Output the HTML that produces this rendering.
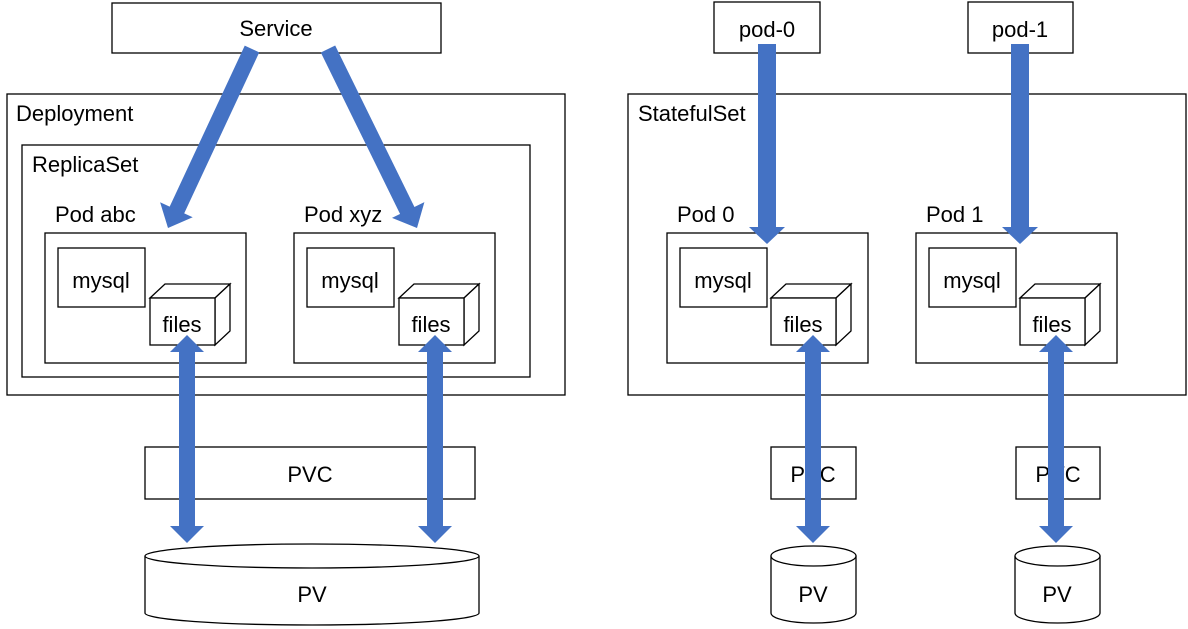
<!DOCTYPE html>
<html><head><meta charset="utf-8"><style>
html,body{margin:0;padding:0;background:#fff;}
svg{display:block;}
text{font-family:"Liberation Sans","Noto Sans CJK KR",sans-serif;font-size:22px;fill:#000;}
</style></head><body>
<svg width="1188" height="629" viewBox="0 0 1188 629" xmlns="http://www.w3.org/2000/svg">
<g fill="#fff" stroke="#000" stroke-width="1.3">
<rect x="112" y="3" width="329" height="50"/>
<rect x="7" y="94" width="558" height="301"/>
<rect x="22" y="145" width="508" height="232"/>
<rect x="45" y="233" width="201" height="130"/>
<rect x="294" y="233" width="201" height="130"/>
<rect x="58" y="248" width="87" height="59"/>
<rect x="307" y="248" width="87" height="59"/>
<rect x="145" y="447" width="330" height="52"/>

<rect x="714" y="2" width="106" height="51"/>
<rect x="968" y="2" width="105" height="51"/>
<rect x="628" y="94" width="558" height="301"/>
<rect x="667" y="233" width="201" height="130"/>
<rect x="916" y="233" width="201" height="130"/>
<rect x="680" y="248" width="87" height="59"/>
<rect x="929" y="248" width="87" height="59"/>
<rect x="771" y="447" width="85" height="52"/>
<rect x="1016" y="447" width="84" height="52"/>
</g>
<g fill="#fff" stroke="#000" stroke-width="1.3">
<g><polygon points="150,298 165,284 230,284 215,298"/><polygon points="215,298 230,284 230,331 215,345"/><rect x="150" y="298" width="65" height="47"/></g>
<g transform="translate(249,0)"><polygon points="150,298 165,284 230,284 215,298"/><polygon points="215,298 230,284 230,331 215,345"/><rect x="150" y="298" width="65" height="47"/></g>
<g transform="translate(621,0)"><polygon points="150,298 165,284 230,284 215,298"/><polygon points="215,298 230,284 230,331 215,345"/><rect x="150" y="298" width="65" height="47"/></g>
<g transform="translate(870,0)"><polygon points="150,298 165,284 230,284 215,298"/><polygon points="215,298 230,284 230,331 215,345"/><rect x="150" y="298" width="65" height="47"/></g>
</g>
<g fill="#fff" stroke="#000" stroke-width="1.3">
<path d="M145,556 L145,613 A167,12 0 0 0 479,613 L479,556"/>
<ellipse cx="312" cy="556" rx="167" ry="12"/>
<path d="M771,556 L771,613 A42.5,10 0 0 0 856,613 L856,556"/>
<ellipse cx="813.5" cy="556" rx="42.5" ry="10"/>
<path d="M1015,556 L1015,613 A42.5,10 0 0 0 1100,613 L1100,556"/>
<ellipse cx="1057.5" cy="556" rx="42.5" ry="10"/>
</g>
<text x="276" y="36" text-anchor="middle">Service</text>
<text x="16" y="121">Deployment</text>
<text x="32" y="172">ReplicaSet</text>
<text x="55" y="222">Pod abc</text>
<text x="304" y="222">Pod xyz</text>
<text x="101" y="288" text-anchor="middle">mysql</text>
<text x="350" y="288" text-anchor="middle">mysql</text>
<text x="182" y="332" text-anchor="middle">files</text>
<text x="431" y="332" text-anchor="middle">files</text>
<text x="310" y="482" text-anchor="middle">PVC</text>
<text x="312" y="602" text-anchor="middle">PV</text>
<text x="767" y="37" text-anchor="middle">pod-0</text>
<text x="1020" y="37" text-anchor="middle">pod-1</text>
<text x="638" y="121">StatefulSet</text>
<text x="677" y="222">Pod 0</text>
<text x="926" y="222">Pod 1</text>
<text x="723" y="288" text-anchor="middle">mysql</text>
<text x="972" y="288" text-anchor="middle">mysql</text>
<text x="803" y="332" text-anchor="middle">files</text>
<text x="1052" y="332" text-anchor="middle">files</text>
<text x="813" y="482" text-anchor="middle">PVC</text>
<text x="1058" y="482" text-anchor="middle">PVC</text>
<text x="813" y="602" text-anchor="middle">PV</text>
<text x="1057" y="602" text-anchor="middle">PV</text>
<g fill="#4472C4" stroke="none">
<polygon points="758,44 776,44 776,227 785,227 767,244 749,227 758,227"/>
<polygon points="1011,44 1029,44 1029,227 1038,227 1020,244 1002,227 1011,227"/>
<polygon points="187,335 204,352 195,352 195,526 204,526 187,543 170,526 179,526 179,352 170,352"/>
<polygon points="435,335 452,352 443,352 443,526 452,526 435,543 418,526 427,526 427,352 418,352"/>
<polygon points="813,335 830,352 821,352 821,526 830,526 813,543 796,526 805,526 805,352 796,352"/>
<polygon points="1056,335 1073,352 1064,352 1064,526 1073,526 1056,543 1039,526 1048,526 1048,352 1039,352"/>
<polygon points="192.7,217.3 160.1,202.3 168,228"/>
<polygon points="424.4,202.1 392,217.9 417,228"/>
</g>
<g stroke="#4472C4" stroke-width="16">
<line x1="252" y1="49" x2="176" y2="212"/>
<line x1="328" y1="49" x2="408" y2="212"/>
</g>
</svg>
</body></html>
